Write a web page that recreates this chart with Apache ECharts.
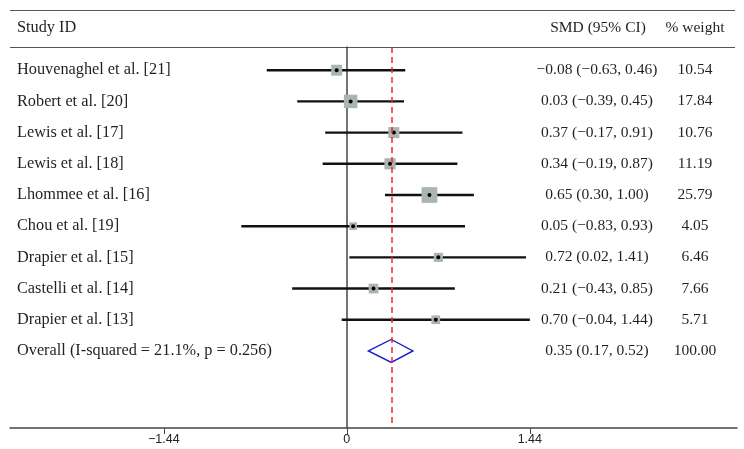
<!DOCTYPE html>
<html>
<head>
<meta charset="utf-8">
<script src="https://cdn.jsdelivr.net/npm/echarts@6/dist/echarts.min.js"></script>
<style>html,body{margin:0;padding:0;background:#fff}#c{width:744px;height:449px}</style>
</head>
<body>
<div id="c"></div>
<script>
// ---- data ----
const studies = ['Houvenaghel et al. [21]','Robert et al. [20]','Lewis et al. [17]','Lewis et al. [18]','Lhommee et al. [16]','Chou et al. [19]','Drapier et al. [15]','Castelli et al. [14]','Drapier et al. [13]'];
const smd   = [-0.08, 0.03, 0.37, 0.34, 0.65, 0.05, 0.72, 0.21, 0.70];
const lower = [-0.63, -0.39, -0.17, -0.19, 0.30, -0.83, 0.02, -0.43, -0.04];
const upper = [0.46, 0.45, 0.91, 0.87, 1.00, 0.93, 1.41, 0.85, 1.44];
const weights = [10.54, 17.84, 10.76, 11.19, 25.79, 4.05, 6.46, 7.66, 5.71];
const overallLabel = 'Overall (I-squared = 21.1%, p = 0.256)';
const overall = {smd: 0.35, lower: 0.17, upper: 0.52, weight: 100.00};
const tickValues = [-1.44, 0, 1.44];
const tickLabels = ['\u22121.44', '0', '1.44'];
const headers = {study: 'Study ID', smd: 'SMD (95% CI)', weight: '% weight'};

// ---- helpers ----
const fmt = v => (v < 0 ? '\u2212' : '') + Math.abs(v).toFixed(2);
const rows = studies.map((s, i) => [i, smd[i], lower[i], upper[i], weights[i]]);
rows.push([studies.length, overall.smd, overall.lower, overall.upper, overall.weight]);
const names = studies.concat([overallLabel]);

const TXT = '#231f20';
const SERIF = '"Liberation Serif", "Times New Roman", serif';
const FS = 15.5;   // numeric columns
const FSL = 16.3;  // study column

const chart = echarts.init(document.getElementById('c'), null, {renderer: 'canvas'});

chart.setOption({
  animation: false,
  backgroundColor: '#fff',
  grid: {left: 10, right: 7, top: 47, bottom: 21},
  xAxis: {
    type: 'value', min: -2.65, max: 3.07,
    axisLine: {show: true, onZero: false, lineStyle: {color: '#444', width: 1.5}},
    axisTick: {show: true, customValues: tickValues, length: 6, inside: false, lineStyle: {color: '#444', width: 1}},
    axisLabel: {show: true, customValues: tickValues, margin: 5, color: '#222', fontSize: 12.5,
      fontFamily: '"Liberation Sans", Arial, sans-serif',
      formatter: v => { const k = tickValues.findIndex(t => Math.abs(t - v) < 1e-9); return k >= 0 ? tickLabels[k] : ''; }},
    splitLine: {show: false}
  },
  yAxis: {
    type: 'value', inverse: true, min: -0.744, max: 11.47,
    axisLine: {show: true, onZero: true, lineStyle: {color: '#444', width: 1.5}},
    axisTick: {show: false}, axisLabel: {show: false}, splitLine: {show: false}
  },
  graphic: [
    {type: 'line', shape: {x1: 10, y1: 10.5, x2: 735, y2: 10.5}, style: {stroke: '#555', lineWidth: 1.2}, silent: true},
    {type: 'line', shape: {x1: 10, y1: 47.5, x2: 735, y2: 47.5}, style: {stroke: '#555', lineWidth: 1.2}, silent: true},
    {type: 'text', x: 17, y: 28, style: {text: headers.study, fill: TXT, font: FSL + 'px ' + SERIF, textVerticalAlign: 'middle'}},
    {type: 'text', x: 598, y: 28, style: {text: headers.smd, fill: TXT, font: FS + 'px ' + SERIF, textAlign: 'center', textVerticalAlign: 'middle'}},
    {type: 'text', x: 695, y: 28, style: {text: headers.weight, fill: TXT, font: FS + 'px ' + SERIF, textAlign: 'center', textVerticalAlign: 'middle'}}
  ],
  series: [{
    type: 'line',
    data: [],
    z: 1,
    silent: true,
    markLine: {
      silent: true, symbol: 'none', label: {show: false},
      lineStyle: {color: '#ee2a2a', type: [6, 4], width: 1.5, opacity: 1},
      emphasis: {disabled: true},
      data: [{xAxis: overall.smd}]
    }
  }, {
    type: 'custom',
    data: rows,
    clip: false,
    z: 3,
    renderItem: function (params, api) {
      const i = api.value(0), est = api.value(1), lo = api.value(2), hi = api.value(3), w = api.value(4);
      const pE = api.coord([est, i]), pL = api.coord([lo, i]), pH = api.coord([hi, i]);
      const y = pE[1];
      const ch = [];
      if (i < studies.length) {
        ch.push({type: 'line', shape: {x1: pL[0], y1: y, x2: pH[0], y2: y}, style: {stroke: '#111', lineWidth: 2.4}});
        const s = 2.5 + 2.6 * Math.sqrt(w);
        ch.push({type: 'rect', shape: {x: pE[0] - s / 2, y: y - s / 2, width: s, height: s}, style: {fill: '#aab5b1'}});
        ch.push({type: 'circle', shape: {cx: pE[0], cy: y, r: 2}, style: {fill: '#000'}});
      } else {
        const h = 11.5;
        ch.push({type: 'polygon', shape: {points: [[pL[0], y], [pE[0], y - h], [pH[0], y], [pE[0], y + h]]},
          style: {fill: 'none', stroke: '#1a1acc', lineWidth: 1.4}});
      }
      ch.push({type: 'text', x: 17, y: y, style: {text: names[i], fill: TXT, font: FSL + 'px ' + SERIF, textVerticalAlign: 'middle'}});
      ch.push({type: 'text', x: 597, y: y, style: {text: fmt(est) + ' (' + fmt(lo) + ', ' + fmt(hi) + ')', fill: TXT, font: FS + 'px ' + SERIF, textAlign: 'center', textVerticalAlign: 'middle'}});
      ch.push({type: 'text', x: 695, y: y, style: {text: w.toFixed(2), fill: TXT, font: FS + 'px ' + SERIF, textAlign: 'center', textVerticalAlign: 'middle'}});
      return {type: 'group', children: ch};
    }
  }]
});
</script>
</body>
</html>
